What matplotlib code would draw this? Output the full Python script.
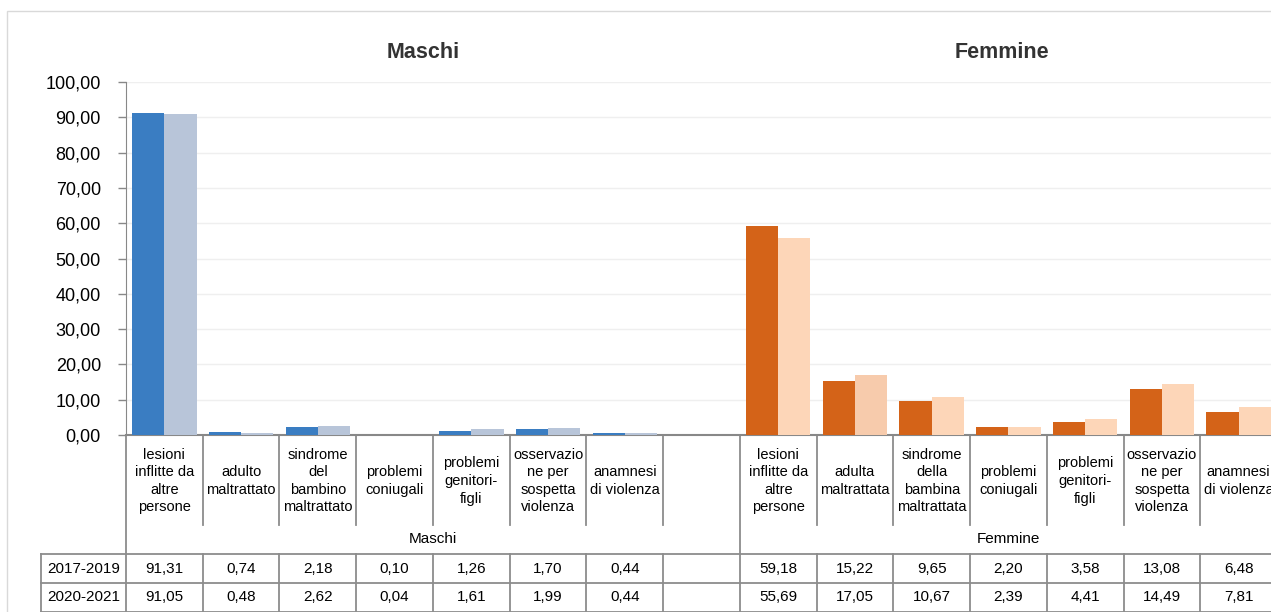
import numpy as np
import matplotlib
matplotlib.use("Agg")
from matplotlib import pyplot as plt
from matplotlib.patches import Rectangle
from matplotlib.ticker import FuncFormatter

plt.rcParams['font.family'] = ['Liberation Sans', 'DejaVu Sans']

# Data
maschi_labels = ["lesioni\ninflitte da\naltre\npersone", "adulto\nmaltrattato",
                 "sindrome\ndel\nbambino\nmaltrattato", "problemi\nconiugali",
                 "problemi\ngenitori-\nfigli", "osservazio\nne per\nsospetta\nviolenza",
                 "anamnesi\ndi violenza", ""]
femmine_labels = ["lesioni\ninflitte da\naltre\npersone", "adulta\nmaltrattata",
                  "sindrome\ndella\nbambina\nmaltrattata", "problemi\nconiugali",
                  "problemi\ngenitori-\nfigli", "osservazio\nne per\nsospetta\nviolenza",
                  "anamnesi\ndi violenza"]
series_names = ["2017-2019", "2020-2021"]
maschi_2017 = [91.31, 0.74, 2.18, 0.10, 1.26, 1.70, 0.44, np.nan]
maschi_2020 = [91.05, 0.48, 2.62, 0.04, 1.61, 1.99, 0.44, np.nan]
femmine_2017 = [59.18, 15.22, 9.65, 2.20, 3.58, 13.08, 6.48]
femmine_2020 = [55.69, 17.05, 10.67, 2.39, 4.41, 14.49, 7.81]

labels = maschi_labels + femmine_labels
v2017 = maschi_2017 + femmine_2017
v2020 = maschi_2020 + femmine_2020
n_m = len(maschi_labels)
n = len(labels)

W, H = 1271, 612
fig = plt.figure(figsize=(W / 100, H / 100), dpi=100)

# outer chart border
fig.patches.append(Rectangle((7 / W, -0.1), 1.2, (H - 11) / H + 0.1, transform=fig.transFigure,
                             fill=False, edgecolor='#d9d9d9', linewidth=1))

ax_left, ax_right, ax_top, ax_bot = 126, 1277, 82, 435
ax = fig.add_axes([ax_left / W, (H - ax_bot) / H, (ax_right - ax_left) / W, (ax_bot - ax_top) / H])

x = np.arange(n)
bw = 0.42
c_dark = ['#3a7dc2'] * n_m + ['#d46318'] * (n - n_m)
c_light = ['#b8c5d9'] * n_m + ['#fdd6b8'] * (n - n_m)
c_light[n_m + 1] = '#f7cbac'
ax.bar(x - bw / 2, v2017, bw, color=c_dark, zorder=3)
ax.bar(x + bw / 2, v2020, bw, color=c_light, zorder=3)

ax.set_xlim(-0.5, n - 0.5)
ax.set_ylim(0, 100)
ax.set_yticks(np.arange(0, 101, 10))
ax.yaxis.set_major_formatter(FuncFormatter(lambda v, p: f"{v:.2f}".replace('.', ',')))
ax.tick_params(axis='y', labelsize=13, length=6, width=1, color='#888888', pad=12, labelcolor='black')
ax.set_xticks([])
ax.grid(axis='y', color='#efefef', linewidth=1, zorder=0)
for s in ['top', 'right']:
    ax.spines[s].set_visible(False)
ax.spines['left'].set_color('#888888')
ax.spines['bottom'].set_color('#888888')
ax.spines['bottom'].set_linewidth(1.5)

# titles
ax.text(3.37, 100 + 30 / 3.53, "Maschi", ha='center', va='center', fontsize=15.5, fontweight='bold', color='#333333')
ax.text(10.91, 100 + 30 / 3.53, "Femmine", ha='center', va='center', fontsize=15.5, fontweight='bold', color='#333333')

# data table below the axis, y in pixel rows
trans = ax.get_xaxis_transform()
def fy(py):
    return (ax_bot - py) / (ax_bot - ax_top)

line_kw = dict(color='#8c8c8c', linewidth=1.3, clip_on=False, transform=trans)
row_lab, row_grp, row_a, row_end = 525, 554, 583, 611.5
x_head = (41 - ax_left) / ((ax_right - ax_left) / n) - 0.5

for k in range(n + 1):
    b = k - 0.5
    if k in (0, n_m):
        ax.plot([b, b], [fy(ax_bot), fy(row_end)], **line_kw)
    else:
        ax.plot([b, b], [fy(ax_bot), fy(row_lab)], **line_kw)
        ax.plot([b, b], [fy(row_grp), fy(row_end)], **line_kw)
ax.plot([x_head, x_head], [fy(row_grp), fy(row_end)], **line_kw)
for py in (row_grp, row_a, row_end):
    ax.plot([x_head, n], [fy(py), fy(py)], **line_kw)

for i, lab in enumerate(labels):
    ax.text(i, fy(481), lab, ha='center', va='center', fontsize=10.5, linespacing=1.32,
            transform=trans, clip_on=False)
ax.text((n_m - 1) / 2, fy(539), "Maschi", ha='center', va='center', fontsize=11, transform=trans)
ax.text(n_m - 0.5 + (n - n_m) / 2, fy(539), "Femmine", ha='center', va='center', fontsize=11, transform=trans)

xh = (x_head - 0.5) / 2
for py, name, vals in ((569, series_names[0], v2017), (597, series_names[1], v2020)):
    ax.text(xh, fy(py), name, ha='center', va='center', fontsize=11, transform=trans)
    for i, v in enumerate(vals):
        if not np.isnan(v):
            ax.text(i, fy(py), f"{v:.2f}".replace('.', ','), ha='center', va='center',
                    fontsize=11, transform=trans)

fig.savefig("out.png", dpi=100)
